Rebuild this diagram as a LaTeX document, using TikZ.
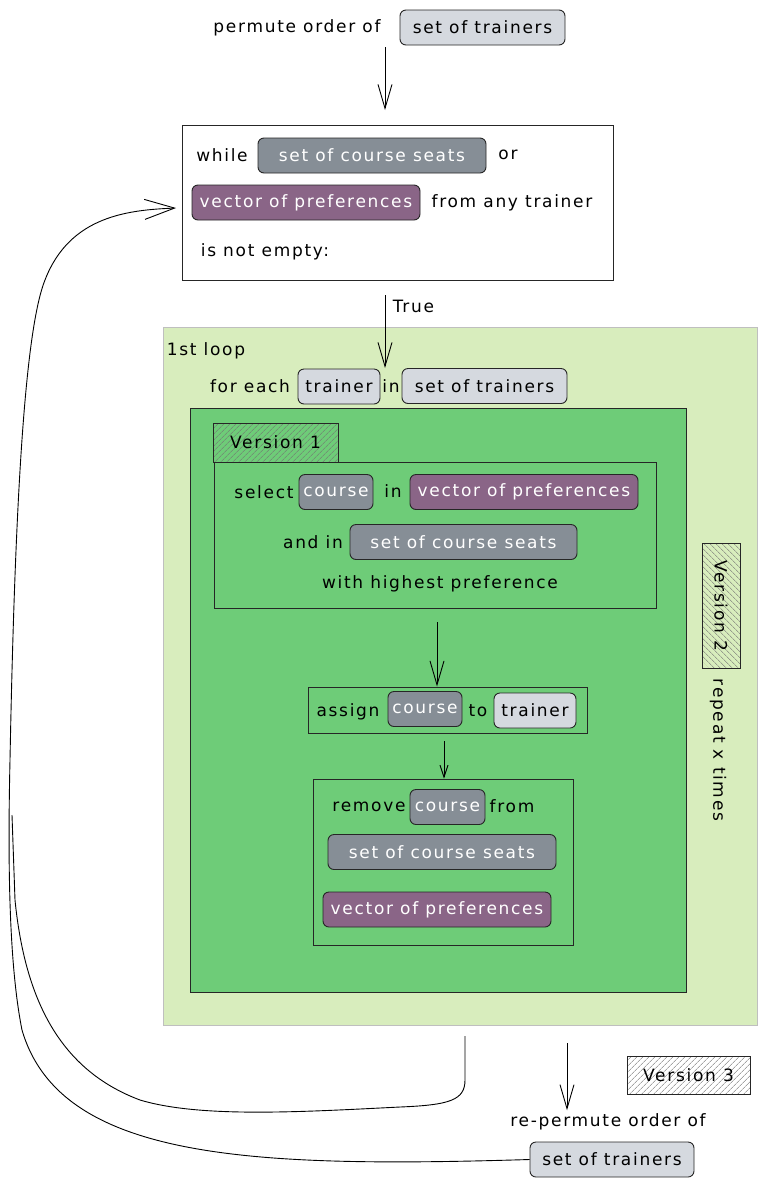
\documentclass[tikz,border=0pt]{standalone}
\usepackage{fontspec}
\setmainfont[LetterSpace=10]{DejaVu Sans}
\usepackage{xcolor}
\usetikzlibrary{arrows.meta,patterns.meta}

\definecolor{chipgray}{HTML}{868E96}
\definecolor{chiplight}{HTML}{D5D9DF}
\definecolor{chippurple}{HTML}{8A6587}
\definecolor{loopgreen}{HTML}{D8EDBD}
\definecolor{innergreen}{HTML}{6ECC78}

\begin{document}
\begin{tikzpicture}[x=1pt, y=-1pt,
    font=\fontsize{17}{20}\selectfont,
    chip/.style={draw=black!85, line width=0.9pt, rounded corners=6pt, minimum height=35pt, inner sep=2pt},
    gray chip/.style={chip, fill=chipgray, text=white},
    light chip/.style={chip, fill=chiplight},
    purple chip/.style={chip, fill=chippurple, text=white},
    frame/.style={draw=black!85, line width=1pt},
    hatched/.style={frame, pattern={Lines[angle=#1, distance=4pt, line width=0.5pt]}, pattern color=black!55},
    hatched/.default=45,
    arr/.style={-{Straight Barb[length=24pt, width=14pt]}, line width=0.9pt},
    small arr/.style={-{Straight Barb[length=12pt, width=8pt]}, line width=0.9pt}]

    % canvas
    \fill[white] (0,0) rectangle (767,1187);
    \useasboundingbox (0,0) rectangle (767,1187);

    % Start
    \node (permute) at (297,28) {permute order of};
    \node[light chip, minimum width=165pt] (trainersA) at (482.5,27.5) {set of trainers};

    % While condition
    \node[frame, fill=white, minimum width=431pt, minimum height=155pt] (while) at (397.5,202.5) {};
    \node (whilekw) at (222,155) {while};
    \node[gray chip, minimum width=228pt] (seatsA) at (372,155.5) {set of course seats};
    \node (or) at (508,155) {or};
    \node[purple chip, minimum width=228pt] (prefsA) at (306,202.5) {vector of preferences};
    \node (anytrainer) at (512,203) {from any trainer};
    \node (notempty) at (265,252) {is not empty:};

    % 1st loop
    \node[draw=black!25, fill=loopgreen, minimum width=594pt, minimum height=698pt] (loop) at (460,676) {};
    \node (looplabel) at (206,351) {1st loop};
    \node (foreach) at (250,386) {for each};
    \node[light chip, minimum width=82pt] (trainerB) at (339,386.5) {trainer};
    \node (inA) at (391,386) {in};
    \node[light chip, minimum width=165pt] (trainersB) at (484.5,386) {set of trainers};

    % inner body
    \node[frame, fill=innergreen, minimum width=496pt, minimum height=584pt] (inner) at (438,700) {};

    % Version 1
    \node[hatched, minimum width=125pt, minimum height=39pt] (vone) at (275.5,442.5) {Version 1};
    \node[frame, minimum width=442pt, minimum height=146pt] (select) at (435,535) {};
    \node (selectkw) at (264,492) {select};
    \node[gray chip, minimum width=74pt] (courseA) at (336,492) {course};
    \node (inB) at (393,491) {in};
    \node[purple chip, minimum width=228pt] (prefsB) at (524,492) {vector of preferences};
    \node (andin) at (313,542) {and in};
    \node[gray chip, minimum width=227pt] (seatsB) at (463.5,542) {set of course seats};
    \node (highest) at (440,584) {with highest preference};

    % assign
    \node[frame, minimum width=279pt, minimum height=46pt] (assign) at (447.5,710) {};
    \node (assignkw) at (348,712) {assign};
    \node[gray chip, minimum width=74pt] (courseB) at (425,709) {course};
    \node (to) at (478,711) {to};
    \node[light chip, minimum width=82pt] (trainerC) at (535,710.5) {trainer};

    % remove
    \node[frame, minimum width=260pt, minimum height=166pt] (remove) at (443,862) {};
    \node (removekw) at (369,807) {remove};
    \node[gray chip, minimum width=75pt] (courseC) at (447.5,807) {course};
    \node (from) at (512,806) {from};
    \node[gray chip, minimum width=228pt] (seatsC) at (442,852) {set of course seats};
    \node[purple chip, minimum width=228pt] (prefsC) at (437,909.5) {vector of preferences};

    % Version 2 and 3
    \node[hatched=-45, rotate=-90, minimum width=125pt, minimum height=38pt] (vtwo) at (721,605.5) {Version 2};
    \node[rotate=-90] (repeat) at (718,750) {repeat x times};
    \node[hatched, preaction={fill=white}, minimum width=123pt, minimum height=38pt] (vthree) at (688.5,1075) {Version 3};

    % end
    \node (repermute) at (608,1122) {re-permute order of};
    \node[light chip, minimum width=164pt] (trainersC) at (612,1159.5) {set of trainers};

    % arrows
    \coordinate (a0) at (385,47);
    \coordinate (a1) at (385,110);
    \coordinate (t0) at (385,295);
    \coordinate (t1) at (385,368);
    \coordinate (s1) at (437,622);
    \coordinate (s2) at (444,741);
    \coordinate (out) at (465,1036);
    \coordinate (r0) at (567,1043);
    \coordinate (back) at (176,208);
    \coordinate (join) at (12,815);

    \draw[arr] (a0) -- (a1);
    \draw[arr] (t0) -- (t1) node[pos=0.15, right=4pt] {True};
    \draw[arr] (s1) -- (assign.north -| s1);
    \draw[small arr] (s2) -- (remove.north -| s2);
    \draw[arr] (r0) -- (repermute.north -| r0);

    % loop back
    \draw[-{Straight Barb[length=30pt, width=20pt]}, line width=0.9pt] (trainersC.west)
        .. controls (250,1168) and (60,1160) .. (22,1030)
        .. controls (8,960) and (8,850) .. (10,760)
        .. controls (15,500) and (25,330) .. (45,280)
        .. controls (70,215) and (130,210) .. (back);
    \draw[line width=0.9pt] (out) -- (465,1080)
        .. controls (465,1100) and (450,1105) .. (400,1107)
        .. controls (300,1112) and (200,1118) .. (140,1100)
        .. controls (60,1070) and (25,1000) .. (15,900) -- (join);

\end{tikzpicture}
\end{document}
